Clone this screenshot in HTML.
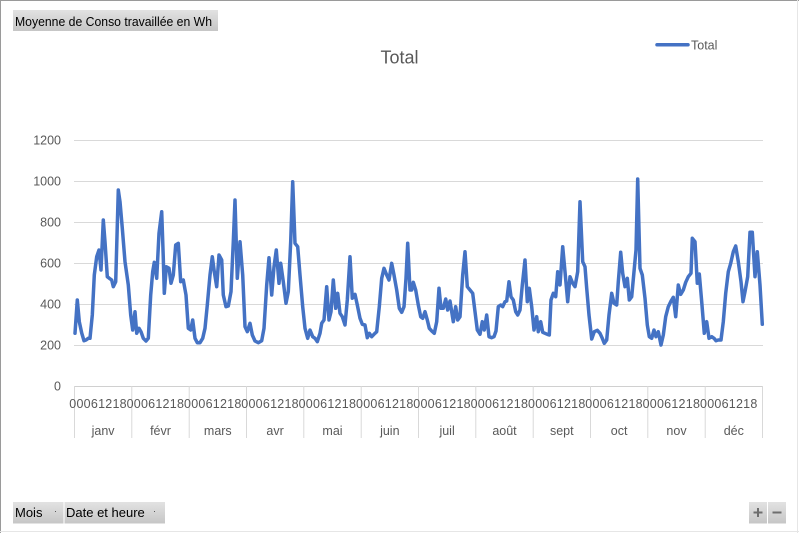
<!DOCTYPE html>
<html><head><meta charset="utf-8"><style>
html,body{margin:0;padding:0;background:#fff;}
svg{display:block;}
text{font-family:"Liberation Sans",Arial,sans-serif;}
</style></head><body>
<svg width="799" height="533" viewBox="0 0 799 533" xmlns="http://www.w3.org/2000/svg">
<defs>
<linearGradient id="bg" x1="0" y1="0" x2="0" y2="1">
<stop offset="0" stop-color="#e2e2e2"/><stop offset="1" stop-color="#c6c6c6"/>
</linearGradient>
</defs>
<rect x="0" y="0" width="799" height="533" fill="#fff"/>
<line x1="0.5" y1="0" x2="0.5" y2="533" stroke="#9a9a9a"/>
<line x1="0" y1="0.5" x2="799" y2="0.5" stroke="#9a9a9a"/>
<line x1="797.5" y1="0" x2="797.5" y2="533" stroke="#e6e6e6"/>
<line x1="0" y1="531.5" x2="799" y2="531.5" stroke="#e6e6e6"/>

<!-- top-left field button -->
<rect x="13" y="10" width="205" height="21" fill="url(#bg)"/>
<text x="15" y="26" font-size="13" fill="#000" textLength="197" lengthAdjust="spacingAndGlyphs">Moyenne de Conso travaillée en Wh</text>

<!-- title -->
<text x="399.5" y="63.5" font-size="18" fill="#595959" text-anchor="middle">Total</text>

<!-- legend -->
<line x1="657" y1="44.7" x2="688" y2="44.7" stroke="#4472C4" stroke-width="3.5" stroke-linecap="round"/>
<text x="691" y="49.5" font-size="12.5" fill="#595959">Total</text>

<!-- gridlines -->
<g stroke="#d9d9d9" stroke-width="1">
<line x1="74" y1="140.5" x2="763" y2="140.5"/>
<line x1="74" y1="181.5" x2="763" y2="181.5"/>
<line x1="74" y1="222.5" x2="763" y2="222.5"/>
<line x1="74" y1="263.5" x2="763" y2="263.5"/>
<line x1="74" y1="304.5" x2="763" y2="304.5"/>
<line x1="74" y1="345.5" x2="763" y2="345.5"/>
</g>
<line x1="74" y1="386.5" x2="763" y2="386.5" stroke="#d0d0d0"/>

<!-- y labels -->
<g font-size="12.5" fill="#595959" text-anchor="end">
<text x="61" y="144.5">1200</text>
<text x="61" y="185.5">1000</text>
<text x="61" y="226.5">800</text>
<text x="61" y="267.5">600</text>
<text x="61" y="308.5">400</text>
<text x="61" y="349.5">200</text>
<text x="61" y="390.5">0</text>
</g>

<!-- category separators -->
<g stroke="#d9d9d9" stroke-width="1">
<line x1="74.5" y1="386" x2="74.5" y2="438"/>
<line x1="131.8" y1="386" x2="131.8" y2="438"/>
<line x1="189.2" y1="386" x2="189.2" y2="438"/>
<line x1="246.5" y1="386" x2="246.5" y2="438"/>
<line x1="303.8" y1="386" x2="303.8" y2="438"/>
<line x1="361.2" y1="386" x2="361.2" y2="438"/>
<line x1="418.5" y1="386" x2="418.5" y2="438"/>
<line x1="475.8" y1="386" x2="475.8" y2="438"/>
<line x1="533.2" y1="386" x2="533.2" y2="438"/>
<line x1="590.5" y1="386" x2="590.5" y2="438"/>
<line x1="647.8" y1="386" x2="647.8" y2="438"/>
<line x1="705.2" y1="386" x2="705.2" y2="438"/>
<line x1="762.5" y1="386" x2="762.5" y2="438"/>
</g>

<!-- hour labels -->
<g font-size="12.5" fill="#595959">
<text x="69.3" y="408" textLength="57.3" lengthAdjust="spacing">00061218</text>
<text x="126.6" y="408" textLength="57.3" lengthAdjust="spacing">00061218</text>
<text x="184" y="408" textLength="57.3" lengthAdjust="spacing">00061218</text>
<text x="241.3" y="408" textLength="57.3" lengthAdjust="spacing">00061218</text>
<text x="298.6" y="408" textLength="57.3" lengthAdjust="spacing">00061218</text>
<text x="356" y="408" textLength="57.3" lengthAdjust="spacing">00061218</text>
<text x="413.3" y="408" textLength="57.3" lengthAdjust="spacing">00061218</text>
<text x="470.6" y="408" textLength="57.3" lengthAdjust="spacing">00061218</text>
<text x="528" y="408" textLength="57.3" lengthAdjust="spacing">00061218</text>
<text x="585.3" y="408" textLength="57.3" lengthAdjust="spacing">00061218</text>
<text x="642.6" y="408" textLength="57.3" lengthAdjust="spacing">00061218</text>
<text x="700" y="408" textLength="57.3" lengthAdjust="spacing">00061218</text>
</g>

<!-- month labels -->
<g font-size="12.5" fill="#595959" text-anchor="middle">
<text x="103.1" y="435">janv</text>
<text x="160.5" y="435">févr</text>
<text x="217.8" y="435">mars</text>
<text x="275.1" y="435">avr</text>
<text x="332.5" y="435">mai</text>
<text x="389.8" y="435">juin</text>
<text x="447.1" y="435">juil</text>
<text x="504.5" y="435">août</text>
<text x="561.8" y="435">sept</text>
<text x="619.1" y="435">oct</text>
<text x="676.5" y="435">nov</text>
<text x="733.8" y="435">déc</text>
</g>

<!-- series -->
<polyline fill="none" stroke="#4472C4" stroke-width="3.5" stroke-linejoin="round" stroke-linecap="round" points="
75,333.3 77.3,300 79.3,321.7 81.7,333 84,340.7 86,340 88.3,338.3 90,338.3 92.3,315 94.3,275 96.7,256.7 99,250 101,270 103.3,220 105,241.7 107.3,276.7 109.3,278.3 111.7,280 113.3,286.7 115.7,281.7 118.3,190 120,201.7 122.3,228.3 125,261.7 128.3,285 130.7,315 132.7,330 135,311.7 136.7,333.3 139,328.3 141,331.7 143.3,338.3 146,341 148.3,338.3 150.7,295 152.7,271.7 154.3,262.3 156.7,278.3 159,233.3 161.7,211.7 163.3,258.3 164.3,293.3 166.3,266.7 169,268.3 171,283.3 173.3,275 175.7,245 178.3,243.3 180.7,281.7 183.3,280 186,295 188.3,328.3 190.7,330 192.7,320 195,338.3 197.3,342.7 200,342.7 202.7,338.3 205,328.3 207.3,305 210,275 212.3,256.7 214.3,271.7 216.7,286.7 219,255 221.7,260 223.3,295 226,306.7 228.3,306 231,291.7 233.3,241.7 235,200 237.3,278.3 240,241.7 242.7,275 245,326.7 247.3,331.7 250,323.3 252.3,335 255,341 258.3,342.7 261.7,340.7 264,328.3 266.7,285 269,257.7 271.7,295 274,266.7 276.3,250 279,283.3 280.7,263.3 283.3,281.7 286,303.3 288.3,291.7 290.7,241.7 292.7,181.7 295,243.3 297.7,246.7 300,275 302.7,306.7 305,328.3 307.7,338.3 310,330 312.7,336.7 315,338.3 317.3,341.7 320,333.3 321.7,323.3 324,320 326.7,286.7 329,320 331,311.7 333.3,280 335.7,308.3 337.7,293.3 340,313.3 342.3,316.7 345,325 347.3,300 350,256.7 352.3,298.3 355,294.3 357.3,305 360,318.3 362.3,324.3 365,325 367.3,337.7 369.3,333.3 371.7,336.7 374,334.3 376.7,331.7 379.3,306.7 381.7,278.3 384,268.3 386.7,275 389,280 391.7,263.3 394,275 396.7,290 399.3,308.3 401.7,312.3 404,306.7 406,278.3 407.7,243.3 410,290 411.7,290 413.3,282.3 415.7,290 418.3,305 420.7,316.7 422.7,318.3 425,311.7 427.3,320 429.3,328.3 431.7,331 434.3,333.3 436.7,321.7 439,288.3 441,308.3 443.3,308.3 445.7,299 447.7,310 450,301 451.7,311.7 453.3,321.7 455.7,306.7 457.7,320 460,316.7 462.7,275 465,251.7 467.3,286.7 470,290 472.7,293.3 475,311.7 477.3,330 480,334.3 482.3,321.7 484.3,330 486.7,315 489,336.7 491.7,337.7 494,336.7 496,331 498.3,306.7 500.7,305 502.7,306.7 505,301.7 506.7,301 509,281.7 511,296.7 513.3,300 515.7,311.7 517.7,315 520,310 522.3,285 525,260 527.3,301.7 529.3,288.3 531.7,306.7 534,330 536.7,316.7 538.3,331.7 540.7,321.7 542.7,332.3 545,333.3 547.3,334.3 549.3,335 551,300 553.3,293.3 555.7,296.7 557.7,271.7 560,285 562.7,246.7 565,271.7 567.7,301.7 570,276.7 572.7,283.3 575,286.7 577.7,271.7 580,201.7 582.7,261.7 585,266.7 586.7,288.3 589,315 591.7,339 594.3,331.7 597.3,330.3 600,333.3 602.3,338.3 604.3,343.3 606.7,340 609,315 611.7,293.3 614,303.3 616.7,305 618.3,281.7 620.7,252.3 622.7,273.3 625,286.7 627.3,278.3 629.3,300 631.7,296.7 634,271.7 636,250 637.7,179 640,268.3 642.3,275 645,298.3 647.3,325 649.3,336.7 651.7,338.3 654,330 656,336.7 658.3,331.7 661,345 663.3,335 665.7,316.7 668.3,306.7 670.7,301.7 673.3,297.3 675.7,316.7 678.3,285 680.7,294.3 683.3,290 685.7,282.3 688.3,276.7 691,273.3 692.3,238.3 695,241.7 697.3,283.3 699.3,274 701.7,301.7 704.3,333.3 706.7,321.7 709,338.3 711.7,336.7 714,338.3 716,340.7 718.3,340 721,340 723.3,321.7 725.7,293.3 728.3,271.7 730.7,263.3 733.3,251.7 735.7,246 738.3,261.7 741,281.7 743,301.7 745,291.7 747.7,276.7 750,232.3 752.3,232.3 755,276.7 757.3,251.7 760,285 762.3,324.3"/>

<!-- bottom field buttons -->
<rect x="13" y="502" width="50.5" height="21.5" fill="url(#bg)"/>
<rect x="64.5" y="502" width="100.5" height="21.5" fill="url(#bg)"/>
<text x="15" y="517" font-size="13" fill="#000">Mois</text>
<text x="54" y="514" font-size="9" fill="#444">·</text>
<text x="66" y="517" font-size="13" fill="#000">Date et heure</text>
<text x="153" y="514" font-size="9" fill="#444">·</text>

<!-- plus / minus buttons -->
<rect x="749" y="502" width="18" height="21.5" fill="url(#bg)"/>
<rect x="768" y="502" width="18" height="21.5" fill="url(#bg)"/>
<g stroke="#6e6e6e" stroke-width="2">
<line x1="753.5" y1="512.5" x2="762.5" y2="512.5"/>
<line x1="758" y1="508" x2="758" y2="517"/>
<line x1="772.5" y1="512.5" x2="781.5" y2="512.5"/>
</g>
</svg>
</body></html>
